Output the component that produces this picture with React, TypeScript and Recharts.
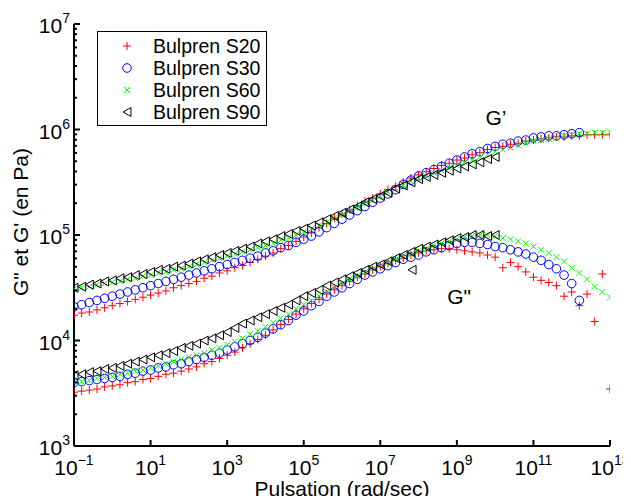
import React from "react";
import { ScatterChart, Scatter, XAxis, YAxis, Legend, ReferenceDot } from "recharts";

// pulsation grid, log10(rad/sec)
const pulsationExp = [
  -1.0, -0.8, -0.6, -0.4, -0.2, 0.0, 0.2, 0.4, 0.6, 0.8,
  1.0, 1.2, 1.4, 1.6, 1.8, 2.0, 2.2, 2.4, 2.6, 2.8,
  3.0, 3.2, 3.4, 3.6, 3.8, 4.0, 4.2, 4.4, 4.6, 4.8,
  5.0, 5.2, 5.4, 5.6, 5.8, 6.0, 6.2, 6.4, 6.6, 6.8,
  7.0, 7.2, 7.4, 7.6, 7.8, 8.0, 8.2, 8.4, 8.6, 8.8,
  9.0, 9.2, 9.4, 9.6, 9.8, 10.0, 10.2, 10.4, 10.6, 10.8,
  11.0, 11.2, 11.4, 11.6, 11.8, 12.0, 12.2, 12.4, 12.6, 12.8,
  13.0,
];

// log10(G' / Pa)
const s20Gp = [
  4.24, 4.26, 4.27, 4.29, 4.31, 4.33, 4.35, 4.37, 4.39, 4.41,
  4.43, 4.45, 4.47, 4.5, 4.52, 4.54, 4.56, 4.59, 4.61, 4.64,
  4.66, 4.69, 4.71, 4.74, 4.77, 4.8, 4.83, 4.87, 4.9, 4.94,
  4.98, 5.02, 5.07, 5.11, 5.16, 5.2, 5.24, 5.28, 5.32, 5.35,
  5.39, 5.43, 5.46, 5.5, 5.54, 5.57, 5.6, 5.63, 5.66, 5.68,
  5.71, 5.73, 5.76, 5.78, 5.81, 5.83, 5.84, 5.86, 5.87, 5.89,
  5.9, 5.91, 5.92, 5.93, 5.93, 5.94, 5.94, 5.95, 5.95, 5.95,
  5.95,
];
const s30Gp = [
  4.32, 4.34, 4.36, 4.38, 4.4, 4.42, 4.44, 4.46, 4.48, 4.5,
  4.52, 4.54, 4.56, 4.58, 4.6, 4.62, 4.64, 4.66, 4.68, 4.7,
  4.72, 4.74, 4.76, 4.78, 4.8, 4.83, 4.85, 4.88, 4.9, 4.93,
  4.96, 4.99, 5.03, 5.07, 5.11, 5.15, 5.19, 5.23, 5.27, 5.31,
  5.35, 5.39, 5.43, 5.48, 5.52, 5.56, 5.59, 5.62, 5.65, 5.68,
  5.71, 5.74, 5.77, 5.79, 5.82, 5.84, 5.86, 5.87, 5.89, 5.9,
  5.92, 5.93, 5.94, 5.94, 5.95, 5.96, 5.97,
];
const s60Gp = [
  4.49, 4.5, 4.51, 4.53, 4.54, 4.55, 4.56, 4.58, 4.59, 4.61,
  4.62, 4.64, 4.65, 4.67, 4.68, 4.7, 4.72, 4.74, 4.76, 4.78,
  4.8, 4.82, 4.84, 4.86, 4.88, 4.9, 4.92, 4.95, 4.97, 5.0,
  5.03, 5.06, 5.09, 5.12, 5.16, 5.19, 5.23, 5.26, 5.3, 5.33,
  5.37, 5.41, 5.44, 5.47, 5.51, 5.54, 5.56, 5.59, 5.61, 5.64,
  5.66, 5.69, 5.71, 5.74, 5.76, 5.79, 5.81, 5.83, 5.85, 5.87,
  5.89, 5.9, 5.91, 5.92, 5.94, 5.95, 5.96, 5.96, 5.97, 5.97,
  5.98,
];
const s90Gp = [
  4.5, 4.51, 4.53, 4.54, 4.56, 4.57, 4.59, 4.6, 4.62, 4.63,
  4.65, 4.67, 4.68, 4.7, 4.71, 4.73, 4.75, 4.77, 4.79, 4.81,
  4.83, 4.85, 4.87, 4.89, 4.92, 4.94, 4.96, 4.99, 5.01, 5.04,
  5.06, 5.09, 5.12, 5.15, 5.18, 5.21, 5.24, 5.27, 5.31, 5.34,
  5.37, 5.4, 5.44, 5.47, 5.5, 5.53, 5.55, 5.57, 5.59, 5.61,
  5.63, 5.65, 5.67, 5.69, 5.72, 5.74,
];

// log10(G'' / Pa)
const s20Gpp = [
  3.51, 3.52, 3.53, 3.54, 3.56, 3.57, 3.58, 3.6, 3.61, 3.63,
  3.64, 3.66, 3.68, 3.69, 3.71, 3.73, 3.75, 3.78, 3.8, 3.83,
  3.86, 3.89, 3.93, 3.97, 4.01, 4.05, 4.1, 4.15, 4.2, 4.25,
  4.3, 4.35, 4.39, 4.44, 4.48, 4.52, 4.56, 4.6, 4.63, 4.67,
  4.7, 4.73, 4.76, 4.78, 4.81, 4.83, 4.85, 4.86, 4.87, 4.87,
  4.86, 4.85, 4.84, 4.83, 4.81, 4.79, 4.69, 4.74, 4.7, 4.65,
  4.6, 4.57, 4.55, 4.52, 4.42, 4.46, 4.33, 4.44, 4.18, 4.63,
  3.54,
];
const s30Gpp = [
  3.6, 3.61, 3.62, 3.63, 3.64, 3.65, 3.66, 3.68, 3.69, 3.71,
  3.72, 3.74, 3.75, 3.77, 3.78, 3.8, 3.82, 3.84, 3.86, 3.88,
  3.91, 3.94, 3.97, 4.0, 4.03, 4.07, 4.11, 4.15, 4.19, 4.24,
  4.28, 4.33, 4.37, 4.42, 4.46, 4.5, 4.54, 4.58, 4.62, 4.65,
  4.68, 4.71, 4.74, 4.77, 4.79, 4.81, 4.84, 4.86, 4.88, 4.9,
  4.92, 4.93, 4.93, 4.92, 4.91, 4.89, 4.88, 4.86, 4.84, 4.82,
  4.79, 4.76, 4.72, 4.68, 4.62, 4.54, 4.38,
];
const s60Gpp = [
  3.6, 3.61, 3.62, 3.64, 3.65, 3.66, 3.68, 3.69, 3.71, 3.72,
  3.74, 3.76, 3.78, 3.8, 3.82, 3.84, 3.86, 3.88, 3.91, 3.93,
  3.96, 3.99, 4.02, 4.06, 4.09, 4.13, 4.17, 4.21, 4.25, 4.3,
  4.34, 4.38, 4.42, 4.46, 4.5, 4.54, 4.58, 4.61, 4.65, 4.68,
  4.71, 4.74, 4.77, 4.8, 4.82, 4.85, 4.87, 4.9, 4.92, 4.94,
  4.96, 4.98, 4.99, 5.0, 5.0, 4.99, 4.97, 4.96, 4.94, 4.92,
  4.89, 4.86, 4.83, 4.79, 4.75, 4.69, 4.64, 4.58, 4.51, 4.46,
  4.41,
];
const s90Gpp = [
  3.67, 3.68, 3.7, 3.71, 3.73, 3.74, 3.76, 3.78, 3.8, 3.82,
  3.84, 3.86, 3.88, 3.9, 3.93, 3.95, 3.97, 4.0, 4.02, 4.05,
  4.08, 4.12, 4.16, 4.19, 4.22, 4.25, 4.28, 4.31, 4.34, 4.38,
  4.42, 4.45, 4.48, 4.52, 4.55, 4.58, 4.61, 4.64, 4.67, 4.7,
  4.72, 4.75, 4.78, 4.81, 4.84, 4.87, 4.89, 4.91, 4.93, 4.95,
  4.97, 4.98, 5.0, 5.0, 4.99, 5.0,
];
const s90GppStrayExp = [7.83];
const s90GppStray = [4.67];

const seriesNames = ["Bulpren S20", "Bulpren S30", "Bulpren S60", "Bulpren S90"];
const xTicks = [1e-1, 1e1, 1e3, 1e5, 1e7, 1e9, 1e11, 1e13];
const yTicks = [
  1e3, 2e3, 3e3, 4e3, 5e3, 6e3, 7e3, 8e3, 9e3,
  1e4, 2e4, 3e4, 4e4, 5e4, 6e4, 7e4, 8e4, 9e4,
  1e5, 2e5, 3e5, 4e5, 5e5, 6e5, 7e5, 8e5, 9e5,
  1e6, 2e6, 3e6, 4e6, 5e6, 6e6, 7e6, 8e6, 9e6, 1e7,
];

const FONT = "'Liberation Sans', Arial, Helvetica, sans-serif";

const pts = (ys: number[], xs: number[] = pulsationExp) =>
  ys.map((v, i) => ({ x: Math.pow(10, xs[i]), y: Math.pow(10, v) }));

const Plus = ({ cx, cy }: any) => (
  <path d={`M${cx - 4},${cy}H${cx + 4}M${cx},${cy - 4}V${cy + 4}`} stroke="#ff0000" strokeWidth={1} fill="none" />
);
const Ring = ({ cx, cy }: any) => (
  <circle cx={cx} cy={cy} r={4.3} stroke="#0000ff" strokeWidth={1} fill="none" />
);
const Cross = ({ cx, cy }: any) => (
  <path d={`M${cx - 3},${cy - 3}L${cx + 3},${cy + 3}M${cx - 3},${cy + 3}L${cx + 3},${cy - 3}`} stroke="#00ff00" strokeWidth={1} fill="none" />
);
const TriLeft = ({ cx, cy }: any) => (
  <path d={`M${cx - 4},${cy}L${cx + 4},${cy - 4.5}L${cx + 4},${cy + 4.5}Z`} stroke="#000" strokeWidth={1} fill="none" />
);

const markers = [Plus, Ring, Cross, TriLeft];

const sup = (e: number) => (e < 0 ? `\u2212${-e}` : `${e}`);

const XTick = ({ x, y, payload }: any) => {
  const e = Math.round(Math.log10(payload.value));
  return (
    <g>
      <line x1={x} y1={y} x2={x} y2={y - 6} stroke="#000" strokeWidth={2} />
      <text x={x} y={y + 29} textAnchor="middle" fill="#000" fontFamily={FONT}>
        <tspan fontSize={21}>10</tspan>
        <tspan fontSize={14} dy={-10}>{sup(e)}</tspan>
      </text>
    </g>
  );
};

const YTick = ({ x, y, payload }: any) => {
  const l = Math.log10(payload.value);
  const major = Math.abs(l - Math.round(l)) < 1e-6;
  return (
    <g>
      <line x1={x} y1={y} x2={x + (major ? 6 : 3)} y2={y} stroke="#000" strokeWidth={2} />
      {major && (
        <text x={x - 4} y={y + 9} textAnchor="end" fill="#000" fontFamily={FONT}>
          <tspan fontSize={21}>10</tspan>
          <tspan fontSize={14} dy={-10}>{sup(Math.round(l))}</tspan>
        </text>
      )}
    </g>
  );
};

const LegendBox = () => (
  <div
    style={{
      width: 168,
      height: 90,
      border: "1px solid #000",
      background: "#fff",
      fontFamily: FONT,
      fontSize: 19.5,
      color: "#000",
      paddingTop: 3,
      boxSizing: "content-box",
    }}
  >
    {seriesNames.map((name, i) => {
      const M = markers[i];
      return (
        <div key={name} style={{ display: "flex", alignItems: "center", height: 22 }}>
          <svg width={55} height={22} style={{ display: "block" }}>
            <M cx={29} cy={11} />
          </svg>
          <span style={{ lineHeight: "22px", whiteSpace: "nowrap" }}>{name}</span>
        </div>
      );
    })}
  </div>
);

const gpSets = [pts(s20Gp), pts(s30Gp), pts(s60Gp), pts(s90Gp)];
const gppSets = [
  pts(s20Gpp),
  pts(s30Gpp),
  pts(s60Gpp),
  [...pts(s90Gpp), ...pts(s90GppStray, s90GppStrayExp)],
];

export default function App() {
  // cancel the body margin so the svg covers the whole page
  return (
    <div style={{ margin: -8, width: 631, height: 504, fontFamily: FONT }}>
      <ScatterChart width={631} height={504} margin={{ top: 24, right: 21, bottom: 28, left: 14 }}>
        <XAxis
          dataKey="x"
          type="number"
          scale="log"
          domain={[1e-1, 1e13]}
          allowDataOverflow
          ticks={xTicks}
          interval={0}
          tickSize={0}
          tickMargin={0}
          tickLine={false}
          tick={<XTick />}
          height={30}
          axisLine={{ stroke: "#000", strokeWidth: 2 }}
          label={{
            content: (p: any) => (
              <text
                x={p.viewBox.x + p.viewBox.width / 2}
                y={496}
                textAnchor="middle"
                fontSize={21}
                fontFamily={FONT}
                fill="#000"
              >
                Pulsation (rad/sec)
              </text>
            ),
          }}
        />
        <YAxis
          dataKey="y"
          type="number"
          scale="log"
          domain={[1e3, 1e7]}
          allowDataOverflow
          ticks={yTicks}
          interval={0}
          tickSize={0}
          tickMargin={0}
          tickLine={false}
          tick={<YTick />}
          width={60}
          axisLine={{ stroke: "#000", strokeWidth: 2 }}
          label={{
            content: () => (
              <text
                x={28}
                y={222}
                transform="rotate(-90 28 222)"
                textAnchor="middle"
                fontSize={21}
                fontFamily={FONT}
                fill="#000"
              >
                {"G\" et G' (en Pa)"}
              </text>
            ),
          }}
        />
        {gpSets.map((d, i) => {
          const M = markers[i];
          return (
            <Scatter key={`gp-${i}`} name={seriesNames[i]} data={d} isAnimationActive={false} shape={(p: any) => <M cx={p.cx} cy={p.cy} />} />
          );
        })}
        {gppSets.map((d, i) => {
          const M = markers[i];
          return (
            <Scatter key={`gpp-${i}`} name={seriesNames[i]} data={d} isAnimationActive={false} shape={(p: any) => <M cx={p.cx} cy={p.cy} />} />
          );
        })}
        <ReferenceDot
          x={1.05e10}
          y={1.285e6}
          r={0}
          fill="none"
          stroke="none"
          label={{ value: "G\u2019", position: "center", fontSize: 21, fill: "#000", fontFamily: FONT }}
        />
        <ReferenceDot
          x={1.14e9}
          y={2.63e4}
          r={0}
          fill="none"
          stroke="none"
          label={{ value: "G\"", position: "center", fontSize: 21, fill: "#000", fontFamily: FONT }}
        />
        <Legend
          layout="vertical"
          align="center"
          verticalAlign="middle"
          wrapperStyle={{ left: 97, top: 31, width: "auto" }}
          content={() => <LegendBox />}
        />
      </ScatterChart>
    </div>
  );
}
